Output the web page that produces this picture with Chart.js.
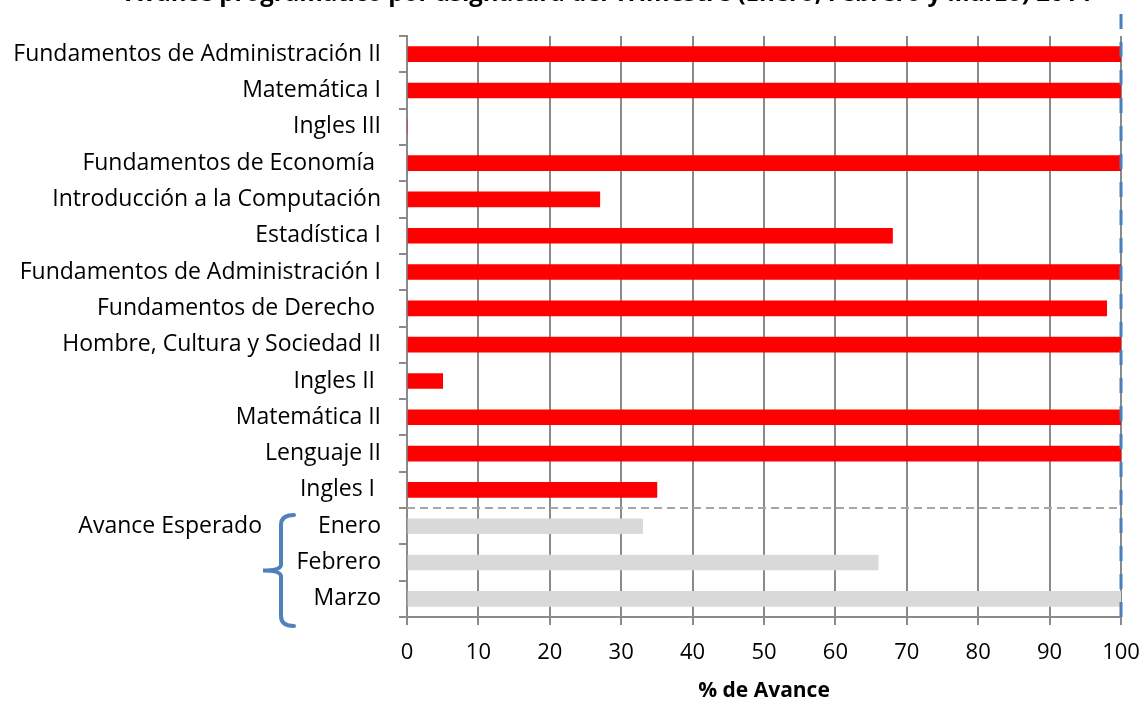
<!DOCTYPE html>
<html>
<head>
<meta charset="utf-8">
<script src="https://cdn.jsdelivr.net/npm/chart.js@4"></script>
<style>
  html, body { margin: 0; padding: 0; background: #fff; }
  #wrap { width: 1148px; height: 704px; position: relative; }
</style>
</head>
<body>
<div id="wrap"><canvas id="grafico" width="1148" height="704"></canvas></div>
<script>
// datos
const asignaturas = [
    'Fundamentos de Administración II',
    'Matemática I',
    'Ingles III',
    'Fundamentos de Economía ',
    'Introducción a la Computación',
    'Estadística I',
    'Fundamentos de Administración I',
    'Fundamentos de Derecho ',
    'Hombre, Cultura y Sociedad II',
    'Ingles II ',
    'Matemática II',
    'Lenguaje II',
    'Ingles I '
];
const avance = [100, 100, 0, 100, 27, 68, 100, 98, 100, 5, 100, 100, 35];

const meses = ['Enero', 'Febrero', 'Marzo'];
const esperado = [33, 66, 100];

const ticksX = [0, 10, 20, 30, 40, 50, 60, 70, 80, 90, 100];

const fuente = "'Open Sans', sans-serif";

const etiquetas = asignaturas.concat(meses);
const datosAvance = avance.concat(meses.map(() => null));
const datosEsperado = asignaturas.map(() => null).concat(esperado);

// líneas punteadas, llave y título
const extras = {
    id: 'extras',
    afterDatasetsDraw(chart) {
        const ctx = chart.ctx;
        const x = chart.scales.x;
        const y = chart.scales.y;
        const area = chart.chartArea;

        // separador entre asignaturas y avance esperado
        const ySep = (y.getPixelForValue(asignaturas.length - 1) + y.getPixelForValue(asignaturas.length)) / 2;
        ctx.save();
        ctx.strokeStyle = '#a6a6a6';
        ctx.lineWidth = 2;
        ctx.setLineDash([8, 5]);
        ctx.beginPath();
        ctx.moveTo(area.left, ySep);
        ctx.lineTo(area.right, ySep);
        ctx.stroke();

        // línea de meta al 100%
        const x100 = x.getPixelForValue(100);
        ctx.strokeStyle = '#4a7ebb';
        ctx.lineWidth = 3;
        ctx.setLineDash([15, 13]);
        ctx.beginPath();
        ctx.moveTo(x100, 14);
        ctx.lineTo(x100, area.bottom + 10);
        ctx.stroke();
        ctx.setLineDash([]);

        // llave
        const top = ySep + 7;
        const bot = area.bottom + 9;
        const mid = (top + bot) / 2;
        ctx.strokeStyle = '#4f81bd';
        ctx.lineWidth = 4;
        ctx.lineCap = 'round';
        ctx.beginPath();
        ctx.moveTo(294, top);
        ctx.quadraticCurveTo(281, top, 281, top + 10);
        ctx.lineTo(281, mid - 6);
        ctx.quadraticCurveTo(281, mid, 263, mid);
        ctx.quadraticCurveTo(281, mid, 281, mid + 6);
        ctx.lineTo(281, bot - 10);
        ctx.quadraticCurveTo(281, bot, 294, bot);
        ctx.stroke();

        ctx.fillStyle = '#000';
        ctx.font = '23px ' + fuente;
        ctx.textAlign = 'right';
        ctx.textBaseline = 'middle';
        ctx.fillText('Avance Esperado', 262, y.getPixelForValue(asignaturas.length));

        // título (cortado arriba en la imagen original)
        ctx.font = 'bold 24px ' + fuente;
        ctx.textAlign = 'left';
        ctx.textBaseline = 'alphabetic';
        ctx.fillText('Avance programático por asignatura del Trimestre (Enero, Febrero y Marzo) 2014', 126, 1);
        ctx.restore();
    }
};

const grafico = new Chart(document.getElementById('grafico'), {
    type: 'bar',
    data: {
        labels: etiquetas,
        datasets: [
            {
                label: 'Avance',
                data: datosAvance,
                backgroundColor: '#ff0000',
                barThickness: 15,
                grouped: false
            },
            {
                label: 'Esperado',
                data: datosEsperado,
                backgroundColor: '#d9d9d9',
                barThickness: 15,
                grouped: false
            }
        ]
    },
    options: {
        indexAxis: 'y',
        responsive: false,
        animation: false,
        layout: {
            padding: { top: 36, right: 27, left: 0, bottom: 0 }
        },
        plugins: {
            legend: { display: false },
            tooltip: { enabled: false }
        },
        scales: {
            x: {
                min: 0,
                max: 100,
                afterBuildTicks(axis) {
                    axis.ticks = ticksX.map(v => ({ value: v }));
                },
                afterFit(axis) {
                    axis.height = 87;
                    axis.paddingLeft = 0;
                    axis.paddingRight = 0;
                },
                grid: {
                    color: '#8a8a8a',
                    lineWidth: 2,
                    tickLength: 8
                },
                border: { color: '#8a8a8a', width: 2 },
                ticks: {
                    color: '#000',
                    padding: 15,
                    font: { family: fuente, size: 22 }
                },
                title: {
                    display: true,
                    text: '% de Avance',
                    color: '#000',
                    font: { family: fuente, size: 21, weight: 'bold' },
                    padding: { top: 12, bottom: 0 }
                }
            },
            y: {
                afterFit(axis) {
                    axis.width = 407;
                },
                grid: {
                    offset: true,
                    drawOnChartArea: false,
                    color: '#8a8a8a',
                    lineWidth: 2,
                    tickLength: 8
                },
                border: { color: '#8a8a8a', width: 2 },
                ticks: {
                    color: '#000',
                    padding: 18,
                    autoSkip: false,
                    font: { family: fuente, size: 23 }
                }
            }
        }
    },
    plugins: [extras]
});
</script>
</body>
</html>
